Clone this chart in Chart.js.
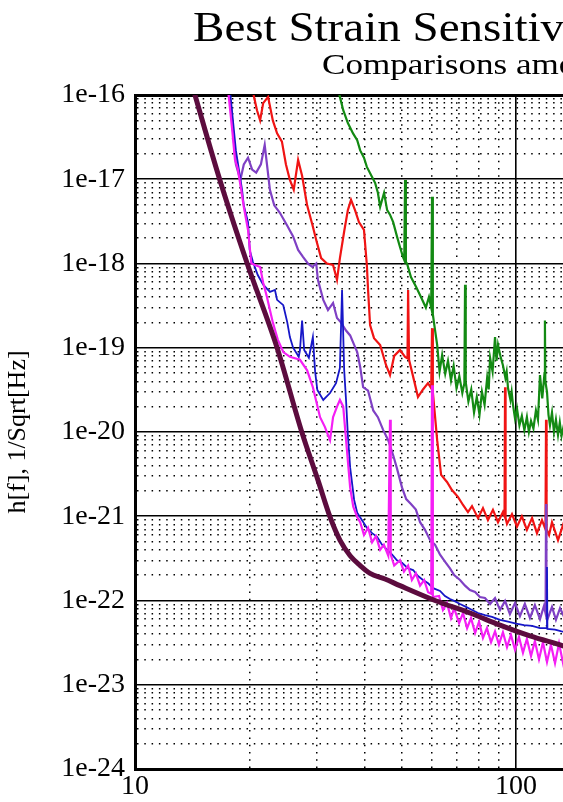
<!DOCTYPE html>
<html>
<head>
<meta charset="utf-8">
<title>Best Strain Sensitivities</title>
<script src="https://cdn.jsdelivr.net/npm/chart.js@4.4.0/dist/chart.umd.min.js"></script>
<style>
  html, body { margin: 0; padding: 0; overflow: hidden; background: #fff; }
  #wrap { position: relative; width: 1318px; height: 802px; }
</style>
</head>
<body>
<div id="wrap"><canvas id="chart"></canvas></div>
<script>
const titleText = 'Best Strain Sensitivities for the LIGO Interferometers';
const subtitleText = 'Comparisons among S1 - S5 Runs';
const yAxisTitle = 'h[f], 1/Sqrt[Hz]';

const xTickLabels = ['10', '100', '1000', '10000'];
const yTickLabels = ['1e-24', '1e-23', '1e-22', '1e-21', '1e-20', '1e-19', '1e-18', '1e-17', '1e-16'];

// design curve (thick)
const designHz = [14.2, 16.7, 19.7, 23.6, 27.4, 30.2, 32.5, 34.5, 36.7, 39.0, 41.4, 45.3, 49.6, 61.3, 75.7, 90.8, 108.8, 132.8, 142.9];
const designH = [1.2e-16, 9.8e-18, 1.0e-18, 1.0e-19, 1.0e-20, 2.7e-21, 9.8e-22, 5.2e-22, 3.4e-22, 2.6e-22, 2.1e-22, 1.8e-22, 1.5e-22, 1.0e-22, 7.1e-23, 5.1e-23, 3.8e-23, 2.9e-23, 2.6e-23];

const magentaHz = [17.5, 18.0, 18.3, 18.6, 19.0, 19.3, 19.8, 20.2, 21.3, 21.7, 22.2, 22.6, 23.0, 23.7, 24.5, 25.5, 27.1, 28.3, 29.3, 30.6,
  31.5, 32.5, 33.1, 33.9, 34.5, 35.2, 36.0, 36.7, 37.4, 38.3, 39.0, 39.9, 40.9, 41.9, 42.9, 44.0, 45.0, 46.2, 46.7, 46.9,
  47.9, 49.6, 50.8, 52.1, 53.3, 54.6, 56.0, 57.4, 58.8, 59.9, 60.2, 60.5, 62.8, 64.3, 65.9, 67.5, 68.8, 70.9, 72.6, 74.4,
  76.2, 78.1, 80.0, 81.9, 83.9, 86.0, 88.1, 90.2, 92.4, 94.7, 97.0, 99.4, 101.8, 104.3, 106.8, 109.5, 112.1, 114.9, 117.7, 120.6,
  123.5, 126.6, 129.7, 132.9, 136.9];
const magentaH = [1.3e-16, 3.8e-17, 1.7e-17, 1.35e-17, 7.5e-18, 4.7e-18, 2.5e-18, 1.0e-18, 9.1e-19, 5.9e-19, 4.0e-19, 2.8e-19, 2.0e-19, 1.25e-19, 8.9e-20, 7.8e-20, 7.2e-20, 5.4e-20, 3.4e-20, 1.5e-20,
  1.15e-20, 8.0e-21, 1.5e-20, 2.0e-20, 2.4e-20, 2.0e-20, 6.1e-21, 2.2e-21, 1.3e-21, 9.8e-22, 8.5e-22, 6.0e-22, 7.3e-22, 4.9e-22, 5.8e-22, 4.0e-22, 4.6e-22, 3.4e-22, 1.4e-20, 3.5e-22,
  2.6e-22, 3.0e-22, 2.2e-22, 2.6e-22, 1.75e-22, 2.1e-22, 1.5e-22, 1.75e-22, 1.25e-22, 1.2e-22, 3.6e-20, 1.1e-22, 1.13e-22, 7.7e-23, 9.3e-23, 6.2e-23, 8.1e-23, 5.4e-23, 7.1e-23, 4.7e-23,
  6.2e-23, 4.1e-23, 5.6e-23, 3.6e-23, 4.7e-23, 3.2e-23, 4.3e-23, 3.0e-23, 4.2e-23, 2.8e-23, 3.9e-23, 2.6e-23, 3.7e-23, 2.4e-23, 3.5e-23, 2.2e-23, 3.3e-23, 2.0e-23, 3.2e-23, 1.86e-23,
  3.0e-23, 1.8e-23, 3.1e-23, 1.8e-23, 3.0e-23];

const violetHz = [17.6, 17.9, 18.1, 18.4, 18.9, 19.3, 19.8, 20.3, 20.8, 21.4, 21.9, 22.2, 22.6, 23.2, 24.0, 25.1, 26.0, 26.8, 27.6, 28.5,
  29.2, 29.9, 30.2, 31.2, 32.1, 33.1, 33.9, 34.7, 35.8, 36.7, 37.6, 38.3, 39.0, 39.7, 40.9, 42.2, 43.4, 44.8, 46.2, 47.6,
  48.7, 50.2, 51.5, 53.0, 54.6, 56.0, 57.7, 59.5, 61.3, 63.2, 65.1, 67.1, 68.8, 71.3, 73.5, 75.7, 78.1, 80.4, 82.9, 85.5,
  88.1, 90.8, 93.6, 96.4, 99.4, 102.4, 105.5, 108.8, 112.1, 115.6, 118.4, 119.6, 119.9, 120.2, 121.3, 124.3, 127.3, 130.5, 135.3];
const violetH = [1.3e-16, 6.6e-17, 3.5e-17, 1.5e-17, 9.8e-18, 1.5e-17, 1.8e-17, 1.3e-17, 1.2e-17, 1.5e-17, 2.55e-17, 1.5e-17, 7.5e-18, 4.9e-18, 4.0e-18, 2.8e-18, 2.1e-18, 1.45e-18, 1.2e-18, 9.9e-19,
  9.1e-19, 1.0e-18, 6.4e-19, 3.7e-19, 2.8e-19, 3.4e-19, 2.25e-19, 2.0e-19, 1.6e-19, 1.4e-19, 1.08e-19, 8.9e-20, 5.9e-20, 3.4e-20, 3.1e-20, 1.8e-20, 1.5e-20, 1.06e-20, 8.0e-21, 5.3e-21,
  3.7e-21, 2.2e-21, 1.6e-21, 1.4e-21, 1.2e-21, 8.5e-22, 6.9e-22, 5.2e-22, 4.6e-22, 3.5e-22, 2.9e-22, 2.4e-22, 2.0e-22, 1.75e-22, 1.5e-22, 1.33e-22, 1.26e-22, 1.1e-22, 1.07e-22, 9.1e-23,
  1.07e-22, 7.7e-23, 9.9e-23, 6.9e-23, 9.3e-23, 6.5e-23, 9.1e-23, 6.2e-23, 8.8e-23, 6.0e-23, 8.6e-23, 7.0e-23, 1.4e-21, 7.0e-23, 6.2e-23, 8.4e-23, 5.9e-23, 8.1e-23, 5.7e-23];

const blueHz = [17.7, 18.4, 19.1, 19.3, 19.8, 20.0, 20.4, 21.0, 21.7, 22.6, 23.3, 23.6, 24.5, 25.1, 25.5, 26.0, 26.9, 27.1, 27.45, 27.8,
  28.6, 29.3, 29.7, 30.1, 31.2, 32.5, 33.7, 34.5, 34.95, 35.4, 35.8, 36.2, 36.7, 37.6, 38.3, 39.4, 40.6, 41.9, 43.2, 44.5,
  45.9, 47.3, 48.7, 50.2, 52.1, 53.7, 55.3, 57.0, 58.8, 60.6, 63.2, 65.1, 67.1, 68.8, 71.3, 73.9, 76.7, 79.5, 82.9, 86.5,
  90.8, 95.3, 100, 105, 110.2, 115.6, 120.3, 120.6, 120.9, 126.6, 131.7, 136.9];
const blueH = [1.3e-16, 2.2e-17, 7.5e-18, 4.9e-18, 3.1e-18, 1.45e-18, 1.04e-18, 7.3e-19, 5.6e-19, 4.6e-19, 4.85e-19, 3.7e-19, 3.2e-19, 2.0e-19, 1.34e-19, 1.0e-19, 7.8e-20, 9.4e-20, 2.1e-19, 9.4e-20,
  7.6e-20, 1.34e-19, 5.2e-20, 3.15e-20, 2.4e-20, 2.9e-20, 3.8e-20, 5.75e-20, 4.85e-19, 5.45e-20, 2.4e-20, 9.2e-21, 3.8e-21, 1.56e-21, 1.1e-21, 9.0e-22, 7.3e-22, 6.3e-22, 5.7e-22, 4.6e-22,
  4.0e-22, 3.5e-22, 3.0e-22, 2.8e-22, 2.4e-22, 2.3e-22, 1.95e-22, 1.75e-22, 1.6e-22, 1.4e-22, 1.3e-22, 1.13e-22, 1.04e-22, 9.9e-23, 9.1e-23, 8.4e-23, 7.7e-23, 7.1e-23, 6.7e-23, 6.4e-23,
  5.9e-23, 5.6e-23, 5.3e-23, 5.1e-23, 5.0e-23, 4.7e-23, 4.7e-23, 2.5e-22, 4.6e-23, 4.5e-23, 4.3e-23, 4.2e-23];

const redHz = [20.3, 20.9, 21.3, 21.7, 22.35, 23.0, 23.6, 24.3, 24.9, 25.5, 26.1, 26.8, 27.45, 28.3, 29.2, 29.9, 30.8, 31.9, 33.1, 33.9,
  34.5, 35.4, 36.2, 36.9, 37.8, 38.7, 39.9, 40.6, 40.9, 41.4, 42.4, 44.0, 45.6, 46.7, 47.9, 49.6, 51.15, 51.9, 52.1, 52.4,
  54.0, 55.3, 57.0, 58.75, 59.9, 60.2, 60.5, 62.1, 63.6, 65.9, 67.9, 70.4, 72.6, 74.8, 76.65, 79.5, 81.9, 84.4, 87.0, 89.7,
  92.4, 93.3, 93.6, 93.9, 94.7, 97.6, 100.6, 103.6, 106.8, 110.2, 113.5, 117.0, 119.5, 119.9, 120.3, 122.1, 124.3, 128.9, 132.9, 136.9];
const redH = [1.2e-16, 6.6e-17, 5.0e-17, 8.0e-17, 9.5e-17, 5.0e-17, 3.5e-17, 2.8e-17, 1.5e-17, 9.8e-18, 7.5e-18, 1.7e-17, 1.1e-17, 4.9e-18, 2.9e-18, 1.9e-18, 1.16e-18, 1.0e-18, 9.6e-19, 6.4e-19,
  1.16e-18, 2.4e-18, 4.3e-18, 5.7e-18, 4.3e-18, 3.1e-18, 2.5e-18, 9.6e-19, 4.85e-19, 1.86e-19, 1.3e-19, 1.08e-19, 6.2e-20, 4.75e-20, 8.0e-20, 9.4e-20, 7.8e-20, 7.5e-20, 4.85e-19, 7.2e-20,
  4.1e-20, 2.6e-20, 3.2e-20, 3.8e-20, 3.3e-20, 1.7e-19, 3.0e-20, 8.0e-21, 3.1e-21, 2.55e-21, 2.05e-21, 1.7e-21, 1.36e-21, 1.12e-21, 1.32e-21, 9.5e-22, 1.25e-21, 9.0e-22, 1.19e-21, 8.5e-22,
  1.12e-21, 1.0e-21, 3.4e-20, 9.5e-22, 8.1e-22, 1.06e-21, 7.5e-22, 1.0e-21, 6.9e-22, 9.5e-22, 6.3e-22, 9.0e-22, 7.0e-22, 1.4e-20, 7.0e-22, 6.0e-22, 8.5e-22, 5.2e-22, 7.9e-22, 4.9e-22];

const greenHz = [33.9, 34.5, 35.2, 36.2, 37.35, 38.3, 39.0, 39.9, 40.6, 41.9, 42.7, 43.4, 44.0, 45.05, 45.9, 46.7, 47.6, 48.7, 49.6, 50.5,
  50.9, 51.15, 51.4, 51.8, 53.0, 54.65, 56.3, 58.0, 59.1, 59.9, 60.2, 60.5, 60.9, 62.1, 63.0, 64.0, 65.2, 66.3, 67.5, 68.6,
  69.8, 71.0, 72.3, 73.2, 73.5, 73.8, 75.0, 76.3, 77.6, 78.9, 80.2, 81.4, 82.7, 84.0, 84.8, 85.5, 86.8, 88.1, 88.9, 89.7,
  91.0, 92.4, 93.8, 94.5, 95.3, 96.7, 97.4, 98.2, 99.4, 100.6, 102.1, 103.6, 105.2, 106.8, 108.1, 109.5, 111.1, 112.8, 114.2, 115.6,
  117.2, 118.8, 119.1, 119.4, 120.6, 121.7, 122.8, 124.3, 125.8, 127.3, 128.9, 130.3, 131.7, 133.5, 136.9];
const greenH = [1.3e-16, 9.5e-17, 6.6e-17, 4.65e-17, 3.5e-17, 2.9e-17, 2.2e-17, 1.8e-17, 1.4e-17, 1.06e-17, 9.0e-18, 6.9e-18, 4.7e-18, 6.9e-18, 4.3e-18, 3.8e-18, 3.1e-18, 2.1e-18, 1.57e-18, 1.2e-18,
  1.1e-18, 9.8e-18, 1.05e-18, 9.9e-19, 6.9e-19, 5.3e-19, 4.0e-19, 3.0e-19, 4.0e-19, 3.0e-19, 6.2e-18, 2.5e-19, 2.0e-19, 1.08e-19, 5.2e-20, 8.2e-20, 4.9e-20, 7.0e-20, 4.1e-20, 6.1e-20,
  3.3e-20, 4.6e-20, 2.9e-20, 3.8e-20, 5.6e-19, 3.9e-20, 2.3e-20, 3.2e-20, 1.7e-20, 2.6e-20, 1.6e-20, 3.0e-20, 2.1e-20, 4.4e-20, 3.2e-20, 7.6e-20, 5.2e-20, 1.34e-19, 7.0e-20, 1.08e-19,
  8.0e-20, 6.2e-20, 4.4e-20, 5.2e-20, 3.3e-20, 2.4e-20, 3.0e-20, 2.1e-20, 1.45e-20, 1.9e-20, 1.2e-20, 1.55e-20, 1.05e-20, 1.5e-20, 1.0e-20, 1.35e-20, 1.1e-20, 1.8e-20, 1.4e-20, 4.75e-20,
  2.5e-20, 5.0e-20, 2.1e-19, 4.0e-20, 3.0e-20, 1.6e-20, 1.2e-20, 1.7e-20, 1.0e-20, 1.4e-20, 9.2e-21, 1.3e-20, 9.0e-21, 1.2e-20, 8.0e-21];

const pts = (hz, h) => hz.map((f, i) => ({ x: f, y: h[i] }));

// 1,2,...,9 per decade; only the powers of ten are labelled
function logTicks(labels) {
  const ticks = [];
  labels.forEach((lbl, i) => {
    const v = Number(lbl);
    ticks.push({ value: v, major: true, lbl: lbl });
    if (i < labels.length - 1) {
      for (let k = 2; k <= 9; k++) ticks.push({ value: k * v, major: false, lbl: '' });
    }
  });
  return ticks;
}

const serif = 'Liberation Serif';
const isMinor = (c) => c.tick && !c.tick.major;

// heading text, stretched a little to match the original's wide serif
const headerPlugin = {
  id: 'header',
  afterDraw(chart) {
    const { ctx, chartArea } = chart;
    ctx.save();
    ctx.fillStyle = '#000';
    ctx.textBaseline = 'alphabetic';
    ctx.textAlign = 'left';
    ctx.font = '42px "' + serif + '"';
    ctx.translate(chartArea.left + 58, 41);
    ctx.scale(1.12, 1);
    ctx.fillText(titleText, 0, 0);
    ctx.restore();
    ctx.save();
    ctx.fillStyle = '#000';
    ctx.font = '29px "' + serif + '"';
    ctx.translate(chartArea.left + 187, 74);
    ctx.scale(1.21, 1);
    ctx.fillText(subtitleText, 0, 0);
    ctx.restore();
  }
};

const line = (data, color, width) => ({
  data: data,
  borderColor: color,
  borderWidth: width,
  pointRadius: 0,
  fill: false,
  tension: 0
});

new Chart(document.getElementById('chart'), {
  type: 'line',
  data: {
    datasets: [
      Object.assign(line(pts(designHz, designH), '#5c0c3e', 5), { cubicInterpolationMode: 'monotone' }),
      line(pts(magentaHz, magentaH), '#f51ef5', 2.2),
      line(pts(blueHz, blueH), '#1616c8', 1.8),
      line(pts(violetHz, violetH), '#7f40c4', 2.2),
      line(pts(redHz, redH), '#f01414', 2.2),
      line(pts(greenHz, greenH), '#138a13', 2.2)
    ]
  },
  options: {
    responsive: true,
    maintainAspectRatio: false,
    animation: false,
    events: [],
    layout: { padding: { top: 95, left: 0, right: 40, bottom: 0 } },
    plugins: {
      legend: { display: false },
      tooltip: { enabled: false }
    },
    scales: {
      x: {
        type: 'logarithmic',
        min: 10,
        max: 10000,
        afterBuildTicks: (s) => { s.ticks = logTicks(xTickLabels); },
        afterFit: (s) => { s.height = 33; },
        ticks: {
          autoSkip: false,
          maxRotation: 0,
          padding: 1,
          color: '#000',
          font: { family: serif, size: 28 },
          callback: (v, i, t) => t[i].lbl
        },
        grid: {
          drawTicks: false,
          color: '#000',
          lineWidth: (c) => isMinor(c) ? 1.5 : 1.6
        },
        border: {
          color: '#000',
          width: 3,
          dash: (c) => isMinor(c) ? [1.5, 5.8] : []
        }
      },
      y: {
        type: 'logarithmic',
        min: 1e-24,
        max: 1e-16,
        afterBuildTicks: (s) => { s.ticks = logTicks(yTickLabels); },
        afterFit: (s) => { s.width = 135; },
        title: {
          display: true,
          text: yAxisTitle,
          color: '#000',
          font: { family: serif, size: 26 },
          padding: { top: 3, bottom: 0 }
        },
        ticks: {
          autoSkip: false,
          padding: 10,
          color: '#000',
          font: { family: serif, size: 28 },
          callback: (v, i, t) => t[i].lbl
        },
        grid: {
          drawTicks: false,
          color: '#000',
          lineWidth: (c) => {
            if (isMinor(c)) return 1.5;
            return c.tick && c.tick.lbl === yTickLabels[yTickLabels.length - 1] ? 3 : 1.6;
          }
        },
        border: {
          color: '#000',
          width: 3,
          dash: (c) => isMinor(c) ? [1.5, 5.8] : []
        }
      }
    }
  },
  plugins: [headerPlugin]
});
</script>
</body>
</html>
